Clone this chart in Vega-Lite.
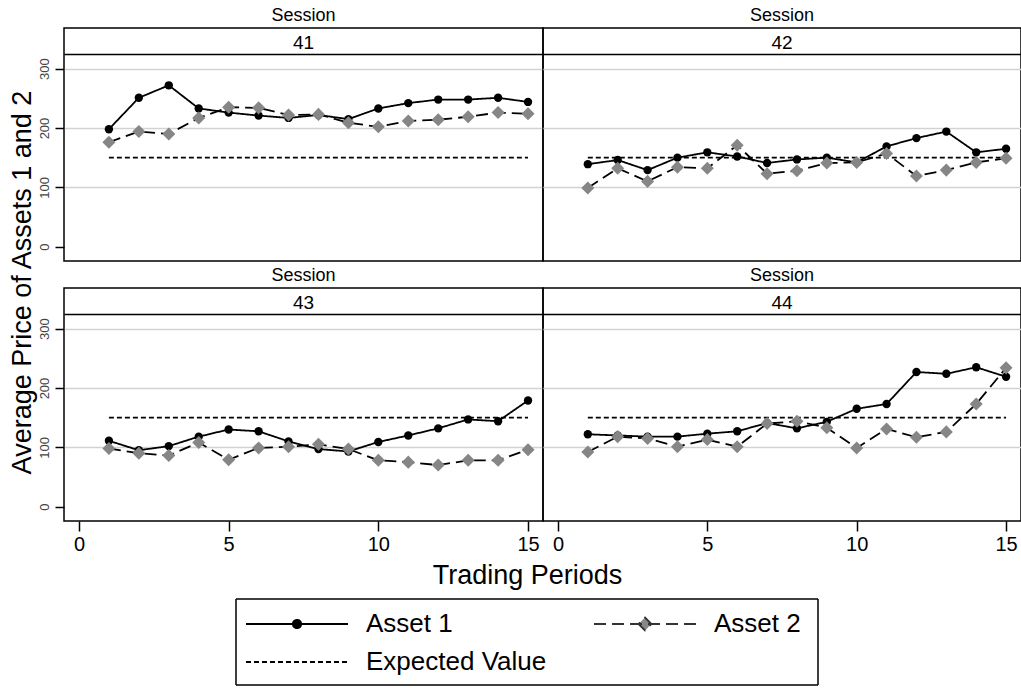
{
  "$schema": "https://vega.github.io/schema/vega-lite/v6.json",
  "autosize": {"type": "pad"},
  "padding": {"left": 7, "top": 6, "right": 0, "bottom": 0},
  "background": "white",
  "bounds": "flush",
  "columns": 2,
  "spacing": {"row": 27, "column": 0},
  "config": {
    "font": "Liberation Sans",
    "view": {"stroke": "black", "strokeWidth": 1.5},
    "title": {"fontSize": 18, "fontWeight": "normal", "color": "black", "offset": -24.5, "anchor": "middle", "frame": "group", "subtitleFontSize": 19, "subtitleColor": "black", "subtitleFont": "Liberation Sans", "subtitlePadding": 8.5},
    "legend": {"orient": "none", "title": null, "padding": 0, "labelFontSize": 26, "labelColor": "black", "labelFont": "Liberation Sans", "labelLimit": 400, "symbolSize": 4, "symbolOffset": 0, "labelOffset": 56, "symbolStrokeWidth": 1.8, "symbolOpacity": 1}
  },
  "resolve": {"scale": {"strokeDash": "independent", "shape": "independent", "color": "independent", "size": "independent"}},
  "data": {"values": [
    {"session": 41, "period": 1, "Asset 1": 198, "Asset 2": 176, "Expected Value": 150},
    {"session": 41, "period": 2, "Asset 1": 251, "Asset 2": 194},
    {"session": 41, "period": 3, "Asset 1": 272, "Asset 2": 190},
    {"session": 41, "period": 4, "Asset 1": 233, "Asset 2": 217},
    {"session": 41, "period": 5, "Asset 1": 226, "Asset 2": 235},
    {"session": 41, "period": 6, "Asset 1": 221, "Asset 2": 234},
    {"session": 41, "period": 7, "Asset 1": 217, "Asset 2": 222},
    {"session": 41, "period": 8, "Asset 1": 222, "Asset 2": 223},
    {"session": 41, "period": 9, "Asset 1": 215, "Asset 2": 209},
    {"session": 41, "period": 10, "Asset 1": 233, "Asset 2": 202},
    {"session": 41, "period": 11, "Asset 1": 242, "Asset 2": 212},
    {"session": 41, "period": 12, "Asset 1": 248, "Asset 2": 214},
    {"session": 41, "period": 13, "Asset 1": 248, "Asset 2": 219},
    {"session": 41, "period": 14, "Asset 1": 251, "Asset 2": 226},
    {"session": 41, "period": 15, "Asset 1": 244, "Asset 2": 224, "Expected Value": 150},
    {"session": 42, "period": 1, "Asset 1": 139, "Asset 2": 99, "Expected Value": 150},
    {"session": 42, "period": 2, "Asset 1": 146, "Asset 2": 132},
    {"session": 42, "period": 3, "Asset 1": 129, "Asset 2": 110},
    {"session": 42, "period": 4, "Asset 1": 150, "Asset 2": 134},
    {"session": 42, "period": 5, "Asset 1": 159, "Asset 2": 132},
    {"session": 42, "period": 6, "Asset 1": 152, "Asset 2": 171},
    {"session": 42, "period": 7, "Asset 1": 141, "Asset 2": 123},
    {"session": 42, "period": 8, "Asset 1": 147, "Asset 2": 128},
    {"session": 42, "period": 9, "Asset 1": 150, "Asset 2": 141},
    {"session": 42, "period": 10, "Asset 1": 142, "Asset 2": 142},
    {"session": 42, "period": 11, "Asset 1": 169, "Asset 2": 157},
    {"session": 42, "period": 12, "Asset 1": 183, "Asset 2": 119},
    {"session": 42, "period": 13, "Asset 1": 194, "Asset 2": 129},
    {"session": 42, "period": 14, "Asset 1": 159, "Asset 2": 142},
    {"session": 42, "period": 15, "Asset 1": 165, "Asset 2": 149, "Expected Value": 150},
    {"session": 43, "period": 1, "Asset 1": 111, "Asset 2": 98, "Expected Value": 150},
    {"session": 43, "period": 2, "Asset 1": 95, "Asset 2": 90},
    {"session": 43, "period": 3, "Asset 1": 102, "Asset 2": 86},
    {"session": 43, "period": 4, "Asset 1": 118, "Asset 2": 108},
    {"session": 43, "period": 5, "Asset 1": 130, "Asset 2": 79},
    {"session": 43, "period": 6, "Asset 1": 127, "Asset 2": 99},
    {"session": 43, "period": 7, "Asset 1": 110, "Asset 2": 101},
    {"session": 43, "period": 8, "Asset 1": 97, "Asset 2": 105},
    {"session": 43, "period": 9, "Asset 1": 93, "Asset 2": 97},
    {"session": 43, "period": 10, "Asset 1": 109, "Asset 2": 78},
    {"session": 43, "period": 11, "Asset 1": 120, "Asset 2": 75},
    {"session": 43, "period": 12, "Asset 1": 132, "Asset 2": 70},
    {"session": 43, "period": 13, "Asset 1": 147, "Asset 2": 78},
    {"session": 43, "period": 14, "Asset 1": 144, "Asset 2": 78},
    {"session": 43, "period": 15, "Asset 1": 179, "Asset 2": 96, "Expected Value": 150},
    {"session": 44, "period": 1, "Asset 1": 122, "Asset 2": 92, "Expected Value": 150},
    {"session": 44, "period": 2, "Asset 1": 120, "Asset 2": 118},
    {"session": 44, "period": 3, "Asset 1": 118, "Asset 2": 115},
    {"session": 44, "period": 4, "Asset 1": 118, "Asset 2": 101},
    {"session": 44, "period": 5, "Asset 1": 123, "Asset 2": 113},
    {"session": 44, "period": 6, "Asset 1": 127, "Asset 2": 101},
    {"session": 44, "period": 7, "Asset 1": 141, "Asset 2": 140},
    {"session": 44, "period": 8, "Asset 1": 132, "Asset 2": 144},
    {"session": 44, "period": 9, "Asset 1": 143, "Asset 2": 133},
    {"session": 44, "period": 10, "Asset 1": 165, "Asset 2": 99},
    {"session": 44, "period": 11, "Asset 1": 173, "Asset 2": 131},
    {"session": 44, "period": 12, "Asset 1": 227, "Asset 2": 117},
    {"session": 44, "period": 13, "Asset 1": 224, "Asset 2": 126},
    {"session": 44, "period": 14, "Asset 1": 235, "Asset 2": 173},
    {"session": 44, "period": 15, "Asset 1": 219, "Asset 2": 234, "Expected Value": 150}
  ]},
  "concat": [
    {
      "width": 479, "height": 233,
      "title": {"text": "Session", "subtitle": "41"},
      "transform": [{"filter": "datum.session === 41"}, {"fold": ["Asset 1", "Asset 2", "Expected Value"], "as": ["series", "price"]}, {"filter": "isValid(datum.price)"}],
      "encoding": {
        "x": {"field": "period", "type": "quantitative", "scale": {"domain": [-0.5, 15.5], "nice": false, "zero": false}, "axis": null},
        "y": {"field": "price", "type": "quantitative", "scale": {"domain": [-24.3, 368.7], "nice": false, "zero": false},
              "axis": {"values": [0, 100, 200, 300, 325.6], "grid": true, "gridColor": {"condition": {"test": "datum.value > 320", "value": "black"}, "value": "#d2d2d2"}, "gridOpacity": {"condition": {"test": "datum.value === 0", "value": 0}, "value": 1}, "gridWidth": 1.5, "domain": false, "ticks": true, "tickSize": 9, "tickWidth": 1.5, "tickColor": "black", "tickOpacity": {"condition": {"test": "datum.value > 320", "value": 0}, "value": 1}, "labelExpr": "datum.value > 320 ? '' : datum.label", "labelOverlap": false, "labelAngle": 270, "labelAlign": "center", "labelBaseline": "bottom", "labelFontSize": 13, "labelColor": "#444444", "labelPadding": 4, "title": "Average Price of Assets 1 and 2", "titleFontSize": 27, "titleFontWeight": "normal", "titleColor": "black", "titleAngle": 270, "titleAlign": "center", "titleBaseline": "alphabetic", "titleX": -34, "titleY": 254}}
      },
      "layer": [
        {"mark": {"type": "line", "color": "black", "strokeWidth": 1.8},
         "encoding": {
           "strokeDash": {"field": "series", "type": "nominal", "scale": {"domain": ["Asset 1", "Asset 2", "Expected Value"], "range": [[1, 0], [12, 6], [5, 3]]},
             "legend": {"values": ["Asset 1"], "legendX": 220, "legendY": 583, "symbolType": "M-51,0H51M4.2,0A4.2,4.2,0,1,1,-4.2,0A4.2,4.2,0,1,1,4.2,0M2.6,0A2.6,2.6,0,1,1,-2.6,0A2.6,2.6,0,1,1,2.6,0M1,0A1,1,0,1,1,-1,0A1,1,0,1,1,1,0", "symbolFillColor": "black", "symbolStrokeColor": "black"}}
         }},
        {"transform": [{"filter": "datum.series !== 'Expected Value'"}],
         "mark": {"type": "point", "filled": true, "opacity": 1},
         "encoding": {
           "shape": {"field": "series", "type": "nominal", "scale": {"domain": ["Asset 1", "Asset 2"], "range": ["circle", "diamond"]}, "legend": null},
           "color": {"field": "series", "type": "nominal", "scale": {"domain": ["Asset 1", "Asset 2"], "range": ["black", "#868686"]}, "legend": null},
           "size": {"field": "series", "type": "nominal", "scale": {"domain": ["Asset 1", "Asset 2"], "range": [70, 170]}, "legend": null}
         }}
      ]
    },
    {
      "width": 478, "height": 233,
      "title": {"text": "Session", "subtitle": "42"},
      "transform": [{"filter": "datum.session === 42"}, {"fold": ["Asset 1", "Asset 2", "Expected Value"], "as": ["series", "price"]}, {"filter": "isValid(datum.price)"}],
      "encoding": {
        "x": {"field": "period", "type": "quantitative", "scale": {"domain": [-0.5, 15.5], "nice": false, "zero": false}, "axis": null},
        "y": {"field": "price", "type": "quantitative", "scale": {"domain": [-24.3, 368.7], "nice": false, "zero": false},
              "axis": {"values": [0, 100, 200, 300, 325.6], "grid": true, "gridColor": {"condition": {"test": "datum.value > 320", "value": "black"}, "value": "#d2d2d2"}, "gridOpacity": {"condition": {"test": "datum.value === 0", "value": 0}, "value": 1}, "gridWidth": 1.5, "domain": false, "ticks": false, "labels": false, "title": null}}
      },
      "layer": [
        {"mark": {"type": "line", "color": "black", "strokeWidth": 1.8},
         "encoding": {
           "strokeDash": {"field": "series", "type": "nominal", "scale": {"domain": ["Asset 1", "Asset 2", "Expected Value"], "range": [[1, 0], [12, 6], [5, 3]]},
             "legend": {"values": ["Asset 2"], "legendX": 89, "legendY": 583, "symbolType": "M-51,0H51M0,-6.5L6.5,0L0,6.5L-6.5,0Z", "symbolFillColor": "#888888", "symbolStrokeColor": "#333333"}}
         }},
        {"transform": [{"filter": "datum.series !== 'Expected Value'"}],
         "mark": {"type": "point", "filled": true, "opacity": 1},
         "encoding": {
           "shape": {"field": "series", "type": "nominal", "scale": {"domain": ["Asset 1", "Asset 2"], "range": ["circle", "diamond"]}, "legend": null},
           "color": {"field": "series", "type": "nominal", "scale": {"domain": ["Asset 1", "Asset 2"], "range": ["black", "#868686"]}, "legend": null},
           "size": {"field": "series", "type": "nominal", "scale": {"domain": ["Asset 1", "Asset 2"], "range": [70, 170]}, "legend": null}
         }}
      ]
    },
    {
      "width": 479, "height": 233,
      "title": {"text": "Session", "subtitle": "43"},
      "transform": [{"filter": "datum.session === 43"}, {"fold": ["Asset 1", "Asset 2", "Expected Value"], "as": ["series", "price"]}, {"filter": "isValid(datum.price)"}],
      "encoding": {
        "x": {"field": "period", "type": "quantitative", "scale": {"domain": [-0.5, 15.5], "nice": false, "zero": false},
              "axis": {"values": [0, 5, 10, 15], "grid": false, "domain": false, "tickSize": 10, "tickWidth": 1.5, "tickColor": "black", "labelFontSize": 20, "labelColor": "black", "labelPadding": 3, "labelFlush": false, "title": "Trading Periods", "titleFontSize": 27, "titleFontWeight": "normal", "titleColor": "black", "titleX": 463, "titleY": 62, "titleAlign": "center", "titleBaseline": "alphabetic"}},
        "y": {"field": "price", "type": "quantitative", "scale": {"domain": [-24.3, 368.7], "nice": false, "zero": false},
              "axis": {"values": [0, 100, 200, 300, 325.6], "grid": true, "gridColor": {"condition": {"test": "datum.value > 320", "value": "black"}, "value": "#d2d2d2"}, "gridOpacity": {"condition": {"test": "datum.value === 0", "value": 0}, "value": 1}, "gridWidth": 1.5, "domain": false, "ticks": true, "tickSize": 9, "tickWidth": 1.5, "tickColor": "black", "tickOpacity": {"condition": {"test": "datum.value > 320", "value": 0}, "value": 1}, "labelExpr": "datum.value > 320 ? '' : datum.label", "labelOverlap": false, "labelAngle": 270, "labelAlign": "center", "labelBaseline": "bottom", "labelFontSize": 13, "labelColor": "#444444", "labelPadding": 4, "title": null}}
      },
      "layer": [
        {"mark": {"type": "line", "color": "black", "strokeWidth": 1.8},
         "encoding": {
           "strokeDash": {"field": "series", "type": "nominal", "scale": {"domain": ["Asset 1", "Asset 2", "Expected Value"], "range": [[1, 0], [12, 6], [5, 3]]},
             "legend": {"values": ["Expected Value"], "legendX": 220, "legendY": 361, "symbolType": "M-51,0H51", "symbolFillColor": "transparent", "symbolStrokeColor": "black"}}
         }},
        {"transform": [{"filter": "datum.series !== 'Expected Value'"}],
         "mark": {"type": "point", "filled": true, "opacity": 1},
         "encoding": {
           "shape": {"field": "series", "type": "nominal", "scale": {"domain": ["Asset 1", "Asset 2"], "range": ["circle", "diamond"]}, "legend": null},
           "color": {"field": "series", "type": "nominal", "scale": {"domain": ["Asset 1", "Asset 2"], "range": ["black", "#868686"]}, "legend": null},
           "size": {"field": "series", "type": "nominal", "scale": {"domain": ["Asset 1", "Asset 2"], "range": [70, 170]}, "legend": null}
         }}
      ]
    },
    {
      "width": 478, "height": 233,
      "title": {"text": "Session", "subtitle": "44"},
      "transform": [{"filter": "datum.session === 44"}, {"fold": ["Asset 1", "Asset 2", "Expected Value"], "as": ["series", "price"]}, {"filter": "isValid(datum.price)"}],
      "encoding": {
        "x": {"field": "period", "type": "quantitative", "scale": {"domain": [-0.5, 15.5], "nice": false, "zero": false},
              "axis": {"values": [0, 5, 10, 15], "grid": false, "domain": false, "tickSize": 10, "tickWidth": 1.5, "tickColor": "black", "labelFontSize": 20, "labelColor": "black", "labelPadding": 3, "labelFlush": false, "title": null}},
        "y": {"field": "price", "type": "quantitative", "scale": {"domain": [-24.3, 368.7], "nice": false, "zero": false},
              "axis": {"values": [0, 100, 200, 300, 325.6], "grid": true, "gridColor": {"condition": {"test": "datum.value > 320", "value": "black"}, "value": "#d2d2d2"}, "gridOpacity": {"condition": {"test": "datum.value === 0", "value": 0}, "value": 1}, "gridWidth": 1.5, "domain": false, "ticks": false, "labels": false, "title": null}}
      },
      "layer": [
        {"mark": {"type": "line", "color": "black", "strokeWidth": 1.8},
         "encoding": {
           "strokeDash": {"field": "series", "type": "nominal", "scale": {"domain": ["Asset 1", "Asset 2", "Expected Value"], "range": [[1, 0], [12, 6], [5, 3]]},
             "legend": {"values": ["Asset 1"], "labelExpr": "''", "legendX": -29, "legendY": 341, "symbolType": "M-291,-43H291V43H-291Z", "symbolFillColor": "transparent", "symbolStrokeColor": "black", "symbolStrokeWidth": 1.5}}
         }},
        {"transform": [{"filter": "datum.series !== 'Expected Value'"}],
         "mark": {"type": "point", "filled": true, "opacity": 1},
         "encoding": {
           "shape": {"field": "series", "type": "nominal", "scale": {"domain": ["Asset 1", "Asset 2"], "range": ["circle", "diamond"]}, "legend": null},
           "color": {"field": "series", "type": "nominal", "scale": {"domain": ["Asset 1", "Asset 2"], "range": ["black", "#868686"]}, "legend": null},
           "size": {"field": "series", "type": "nominal", "scale": {"domain": ["Asset 1", "Asset 2"], "range": [70, 170]}, "legend": null}
         }}
      ]
    }
  ]
}
